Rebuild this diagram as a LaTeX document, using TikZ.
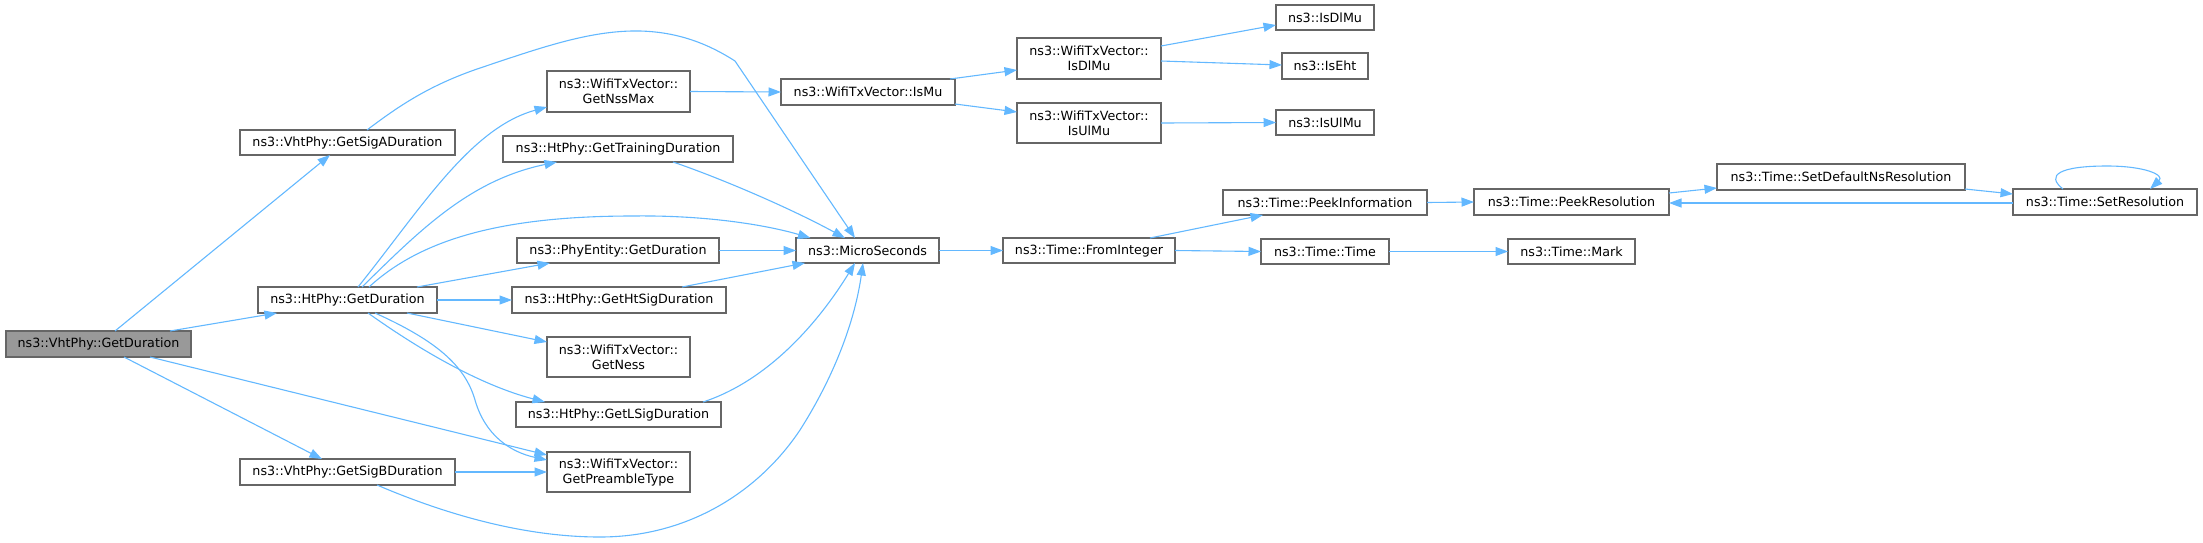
\documentclass[tikz,border=0pt]{standalone}
\usepackage{fontspec}
\setmainfont{DejaVu Sans}
\usetikzlibrary{arrows.meta}
\definecolor{edgeblue}{HTML}{63B8FF}
\definecolor{boxgray}{HTML}{666666}
\definecolor{rootfill}{HTML}{999999}
\tikzset{
  box/.style={draw=boxgray, fill=white, line width=1.3pt, inner sep=0pt, outer sep=0pt,
    font=\fontsize{12.7}{15}\selectfont, align=center, text=black},
  rootbox/.style={box, fill=rootfill},
  edge/.style={draw=edgeblue, line width=1.1pt, -{Triangle[length=12.5pt,width=9pt]}}
}
\begin{document}
\begin{tikzpicture}[x=1pt,y=-1pt]
\useasboundingbox (0,0) rectangle (2203,542);
% nodes
\node[rootbox, minimum width=185pt, minimum height=26pt] (vgd) at (98.5,344) {ns3::VhtPhy::GetDuration};
\node[box, minimum width=215pt, minimum height=25pt] (siga) at (347.5,142.5) {ns3::VhtPhy::GetSigADuration};
\node[box, minimum width=179pt, minimum height=26pt] (htgd) at (347.5,300) {ns3::HtPhy::GetDuration};
\node[box, minimum width=215pt, minimum height=26pt] (sigb) at (347.5,472) {ns3::VhtPhy::GetSigBDuration};
\node[box, minimum width=143pt, minimum height=41pt] (nss) at (618.5,91.5) {ns3::WifiTxVector::\\GetNssMax};
\node[box, minimum width=230pt, minimum height=26pt] (train) at (618,149) {ns3::HtPhy::GetTrainingDuration};
\node[box, minimum width=202pt, minimum height=25pt] (phy) at (618,250.5) {ns3::PhyEntity::GetDuration};
\node[box, minimum width=214pt, minimum height=26pt] (htsig) at (619,300) {ns3::HtPhy::GetHtSigDuration};
\node[box, minimum width=143pt, minimum height=40pt] (ness) at (618.5,357) {ns3::WifiTxVector::\\GetNess};
\node[box, minimum width=205pt, minimum height=25pt] (lsig) at (618.5,414.5) {ns3::HtPhy::GetLSigDuration};
\node[box, minimum width=143pt, minimum height=40pt] (pre) at (618.5,472) {ns3::WifiTxVector::\\GetPreambleType};
\node[box, minimum width=143pt, minimum height=25pt] (micro) at (867.5,250.5) {ns3::MicroSeconds};
\node[box, minimum width=174pt, minimum height=26pt] (ismu) at (868,92) {ns3::WifiTxVector::IsMu};
\node[box, minimum width=144pt, minimum height=41pt] (wdl) at (1089,58.5) {ns3::WifiTxVector::\\IsDlMu};
\node[box, minimum width=144pt, minimum height=40pt] (wul) at (1089,123) {ns3::WifiTxVector::\\IsUlMu};
\node[box, minimum width=98pt, minimum height=25pt] (idl) at (1325,17.5) {ns3::IsDlMu};
\node[box, minimum width=86pt, minimum height=26pt] (ieht) at (1325,66) {ns3::IsEht};
\node[box, minimum width=98pt, minimum height=25pt] (iul) at (1325,122.5) {ns3::IsUlMu};
\node[box, minimum width=172pt, minimum height=25pt] (fromint) at (1089,250.5) {ns3::Time::FromInteger};
\node[box, minimum width=204pt, minimum height=25pt] (peekinfo) at (1325,202.5) {ns3::Time::PeekInformation};
\node[box, minimum width=128pt, minimum height=25pt] (ttime) at (1325,251.5) {ns3::Time::Time};
\node[box, minimum width=127pt, minimum height=25pt] (mark) at (1571.5,251.5) {ns3::Time::Mark};
\node[box, minimum width=195pt, minimum height=26pt] (peekres) at (1571.5,202) {ns3::Time::PeekResolution};
\node[box, minimum width=248pt, minimum height=26pt] (setdef) at (1841,177) {ns3::Time::SetDefaultNsResolution};
\node[box, minimum width=184pt, minimum height=26pt] (setres) at (2105,202) {ns3::Time::SetResolution};
% edges from root
\draw[edge] ([xshift=16.5pt]vgd.north) -- ([xshift=-17.5pt]siga.south);
\draw[edge] ([xshift=71.5pt]vgd.north) -- ([xshift=-70.5pt]htgd.south);
\draw[edge] ([xshift=51.5pt]vgd.south) -- ([yshift=17pt]pre.west);
\draw[edge] ([xshift=25.5pt]vgd.south) -- ([xshift=-25.5pt]sigb.north);
% SigA -> MicroSeconds
\draw[edge] ([xshift=19.5pt]siga.north) .. controls (400,105) and (430,85) .. (480,68)
  .. controls (540,48) and (590,30) .. (640,31) .. controls (680,32) and (710,45) .. (735,61)
  -- ([xshift=-12.5pt]micro.north);
% from HtPhy::GetDuration
\draw[edge] ([xshift=10.5pt]htgd.north) .. controls (420,210) and (470,128) .. ([yshift=-15.5pt]nss.west);
\draw[edge] ([xshift=14.5pt]htgd.north) .. controls (420,230) and (470,180) .. ([xshift=-61pt]train.south);
\draw[edge] ([xshift=21.5pt]htgd.north) .. controls (420,240) and (500,216) .. (633,216)
  .. controls (710,215) and (770,226) .. ([xshift=-57pt]micro.north);
\draw[edge] ([xshift=69.5pt]htgd.north) -- ([xshift=-68pt]phy.south);
\draw[edge] (htgd.east) -- (htsig.west);
\draw[edge] ([xshift=59.5pt]htgd.south) -- ([yshift=15pt]ness.west);
\draw[edge] ([xshift=20.5pt]htgd.south) .. controls (420,350) and (480,385) .. ([xshift=-73.5pt]lsig.north);
\draw[edge] ([xshift=27.5pt]htgd.south) .. controls (435,340) and (465,365) .. (475,400)
  .. controls (485,435) and (510,452) .. ([yshift=12pt]pre.west);
% from SigB
\draw[edge] (sigb.east) -- (pre.west);
\draw[edge] ([xshift=29.5pt]sigb.south) .. controls (440,512) and (520,537) .. (600,537)
  .. controls (690,537) and (760,490) .. (800,430)
  .. controls (835,375) and (855,320) .. ([xshift=-4.5pt]micro.south);
% into MicroSeconds
\draw[edge] ([xshift=55pt]train.south) .. controls (720,178) and (790,208) .. ([xshift=-22.5pt]micro.north);
\draw[edge] (phy.east) -- (micro.west);
\draw[edge] ([xshift=63pt]htsig.north) -- ([xshift=-62.5pt]micro.south);
\draw[edge] ([xshift=84.5pt]lsig.north) .. controls (770,380) and (820,320) .. ([xshift=-12.5pt]micro.south);
% IsMu branch
\draw[edge] (nss.east) -- (ismu.west);
\draw[edge] ([xshift=82pt]ismu.north) -- ([yshift=-11.5pt]wdl.west);
\draw[edge] ([yshift=-12pt]ismu.east) -- ([yshift=11pt]wul.west);
\draw[edge] ([yshift=12.5pt]wdl.east) -- ([yshift=-7.5pt]idl.west);
\draw[edge] ([yshift=-2.5pt]wdl.east) -- ([yshift=1pt]ieht.west);
\draw[edge] (wul.east) -- (iul.west);
% Time branch
\draw[edge] (micro.east) -- (fromint.west);
\draw[edge] ([xshift=61pt]fromint.north) -- ([xshift=-62pt]peekinfo.south);
\draw[edge] (fromint.east) -- (ttime.west);
\draw[edge] (ttime.east) -- (mark.west);
\draw[edge] (peekinfo.east) -- (peekres.west);
\draw[edge] ([yshift=9pt]peekres.east) -- ([yshift=-11pt]setdef.west);
\draw[edge] ([yshift=-12pt]setdef.east) -- ([yshift=8pt]setres.west);
\draw[edge] ([yshift=-1pt]setres.west) -- ([yshift=-1pt]peekres.east);
\draw[edge] ([xshift=-42pt]setres.north) .. controls (2045,175) and (2060,166) .. (2107,166)
  .. controls (2145,166) and (2165,175) .. ([xshift=45pt]setres.north);
\end{tikzpicture}
\end{document}
